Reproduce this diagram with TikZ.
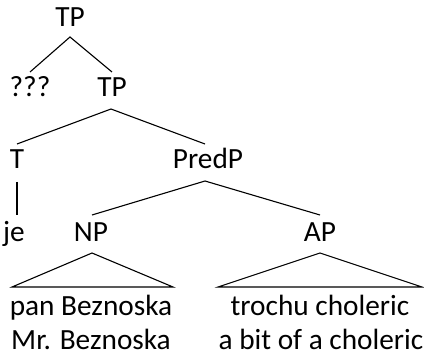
\documentclass[tikz,border=0pt]{standalone}
\usepackage{fontspec}
\setmainfont{Carlito}
\begin{document}
\begin{tikzpicture}[x=1pt,y=-1pt,
  lab/.style={anchor=base,inner sep=0pt,font=\fontsize{29.3}{31}\selectfont},
  edge/.style={draw=black,line width=1.1pt}]
\useasboundingbox (0,0) rectangle (424,353);
% labels
\node[lab] (tp1) at (70,27) {TP};
\node[lab] (q) at (30,97) {???};
\node[lab] (tp2) at (112,97) {TP};
\node[lab] (t) at (17,168) {T};
\node[lab] (predp) at (208,168) {PredP};
\node[lab] (je) at (14,242) {je};
\node[lab] (np) at (91,242) {NP};
\node[lab] (ap) at (320,242) {AP};
\node[lab] (pan) at (91,316) {pan Beznoska};
\node[lab] (mr) at (91,349.5) {Mr. Beznoska};
\node[lab] (tro) at (320,316) {trochu choleric};
\node[lab] (bit) at (321,349.5) {a bit of a choleric};
% connector end points
\coordinate (tp1b) at (70,37);
\coordinate (qt) at (30,72);
\coordinate (tp2t) at (112,72);
\coordinate (tp2b) at (111,109);
\coordinate (tt) at (17,144);
\coordinate (predpt) at (205,144);
\coordinate (tb) at (17,182);
\coordinate (jet) at (17,215);
\coordinate (predpb) at (205,181);
\coordinate (npt) at (92,215);
\coordinate (apt) at (320,215);
\coordinate (npb) at (92,253);
\coordinate (npl) at (12,287);
\coordinate (npr) at (173,287);
\coordinate (apb) at (320,253);
\coordinate (apl) at (218,287);
\coordinate (apr) at (422,287);
% connectors
\draw[edge] (qt) -- (tp1b) -- (tp2t);
\draw[edge] (tt) -- (tp2b) -- (predpt);
\draw[edge] (tb) -- (jet);
\draw[edge] (npt) -- (predpb) -- (apt);
\draw[edge] (npl) -- (npb) -- (npr) -- cycle;
\draw[edge] (apl) -- (apb) -- (apr) -- cycle;
\end{tikzpicture}
\end{document}
